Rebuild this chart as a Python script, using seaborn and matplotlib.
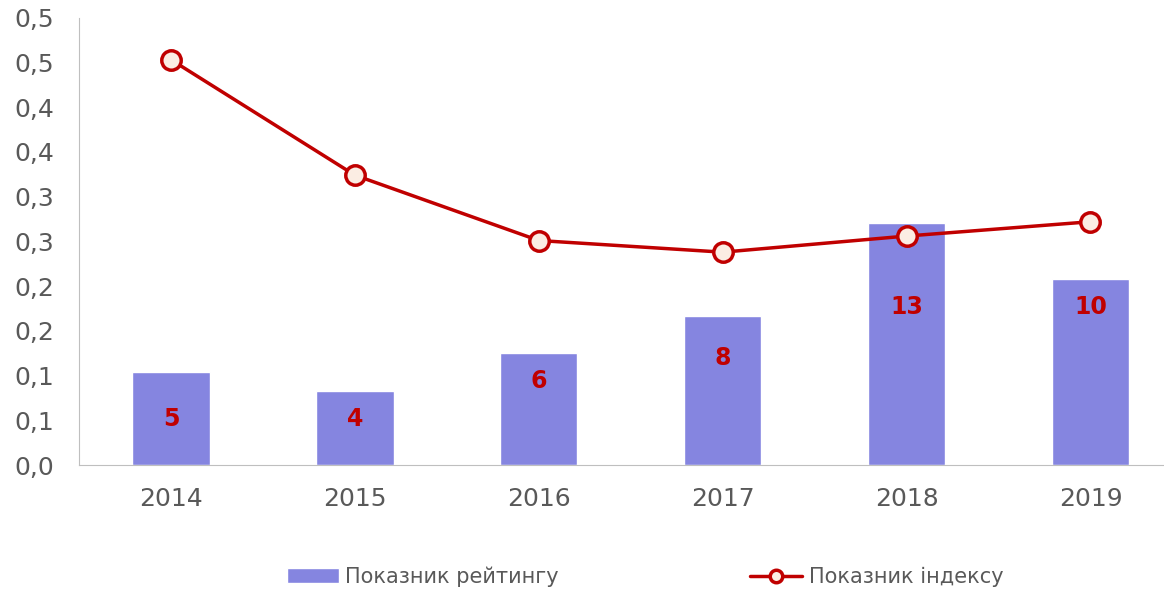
import matplotlib
matplotlib.use('Agg')
import matplotlib.pyplot as plt
import seaborn as sns
import pandas as pd

# Datos del gráfico
roky = ['2014', '2015', '2016', '2017', '2018', '2019']
reityng = [5, 4, 6, 8, 13, 10]
indeks = [0.453, 0.324, 0.251, 0.238, 0.256, 0.272]
y_ticks = [0.0, 0.05, 0.1, 0.15, 0.2, 0.25, 0.3, 0.35, 0.4, 0.45, 0.5]
y_labels = ['0,0', '0,1', '0,1', '0,2', '0,2', '0,3', '0,3', '0,4', '0,4', '0,5', '0,5']

df = pd.DataFrame({'rik': roky, 'reityng': reityng, 'indeks': indeks})

sns.set_style('white')
plt.rcParams['font.family'] = ['DejaVu Sans']

gris = '#595959'
rojo = '#C00000'
lila = '#8585E0'

fig = plt.figure(figsize=(11.64, 5.91), dpi=100)
ax_bar = fig.add_axes([0.068, 0.213, 0.932, 0.757])

sns.barplot(data=df, x='rik', y='reityng', color=lila, width=0.42,
            saturation=1, ax=ax_bar, label='Показник рейтингу', legend=False)
ax_bar.set_ylim(0, 24)
ax_bar.set_xlim(-0.5, 5.4)
ax_bar.set_yticks([])
ax_bar.set_xlabel('')
ax_bar.set_ylabel('')

# Posición vertical de las etiquetas (como en el original de Excel)
pos_etiqueta = [2.5, 2.5, 4.5, 5.75, 8.5, 8.5]
for i, (v, p) in enumerate(zip(reityng, pos_etiqueta)):
    ax_bar.text(i, p, str(v), ha='center', va='center', color=rojo,
                fontsize=17, fontweight='semibold')

ax_line = ax_bar.twinx()
sns.lineplot(data=df, x='rik', y='indeks', ax=ax_line, color=rojo, lw=2.5,
             marker='o', markersize=14, markeredgewidth=2.5,
             markerfacecolor='#FBEDE3', markeredgecolor=rojo,
             label='Показник індексу', legend=False)
ax_line.set_ylim(0, 0.5)
ax_line.yaxis.tick_left()
ax_line.set_yticks(y_ticks)
ax_line.set_yticklabels(y_labels)
ax_line.set_ylabel('')
ax_line.set_xlabel('')

for a in (ax_bar, ax_line):
    for s in a.spines.values():
        s.set_visible(False)
ax_line.spines['left'].set_visible(True)
ax_line.spines['left'].set_color('#BFBFBF')
ax_line.spines['bottom'].set_visible(True)
ax_line.spines['bottom'].set_color('#BFBFBF')

ax_line.tick_params(axis='y', length=0, pad=18, labelsize=18, labelcolor=gris)
ax_bar.tick_params(axis='x', length=0, pad=16, labelsize=18, labelcolor=gris)

h1, l1 = ax_bar.get_legend_handles_labels()
h2, l2 = ax_line.get_legend_handles_labels()
leg = fig.legend(h1 + h2, l1 + l2, loc='center', ncol=2, frameon=False,
                 bbox_to_anchor=(0.554, 0.024), columnspacing=9.2,
                 handlelength=2.5, handletextpad=0.3, fontsize=15,
                 labelcolor=gris)
leg.legend_handles[1].set_markersize(9)

fig.savefig('out.png', dpi=100)
